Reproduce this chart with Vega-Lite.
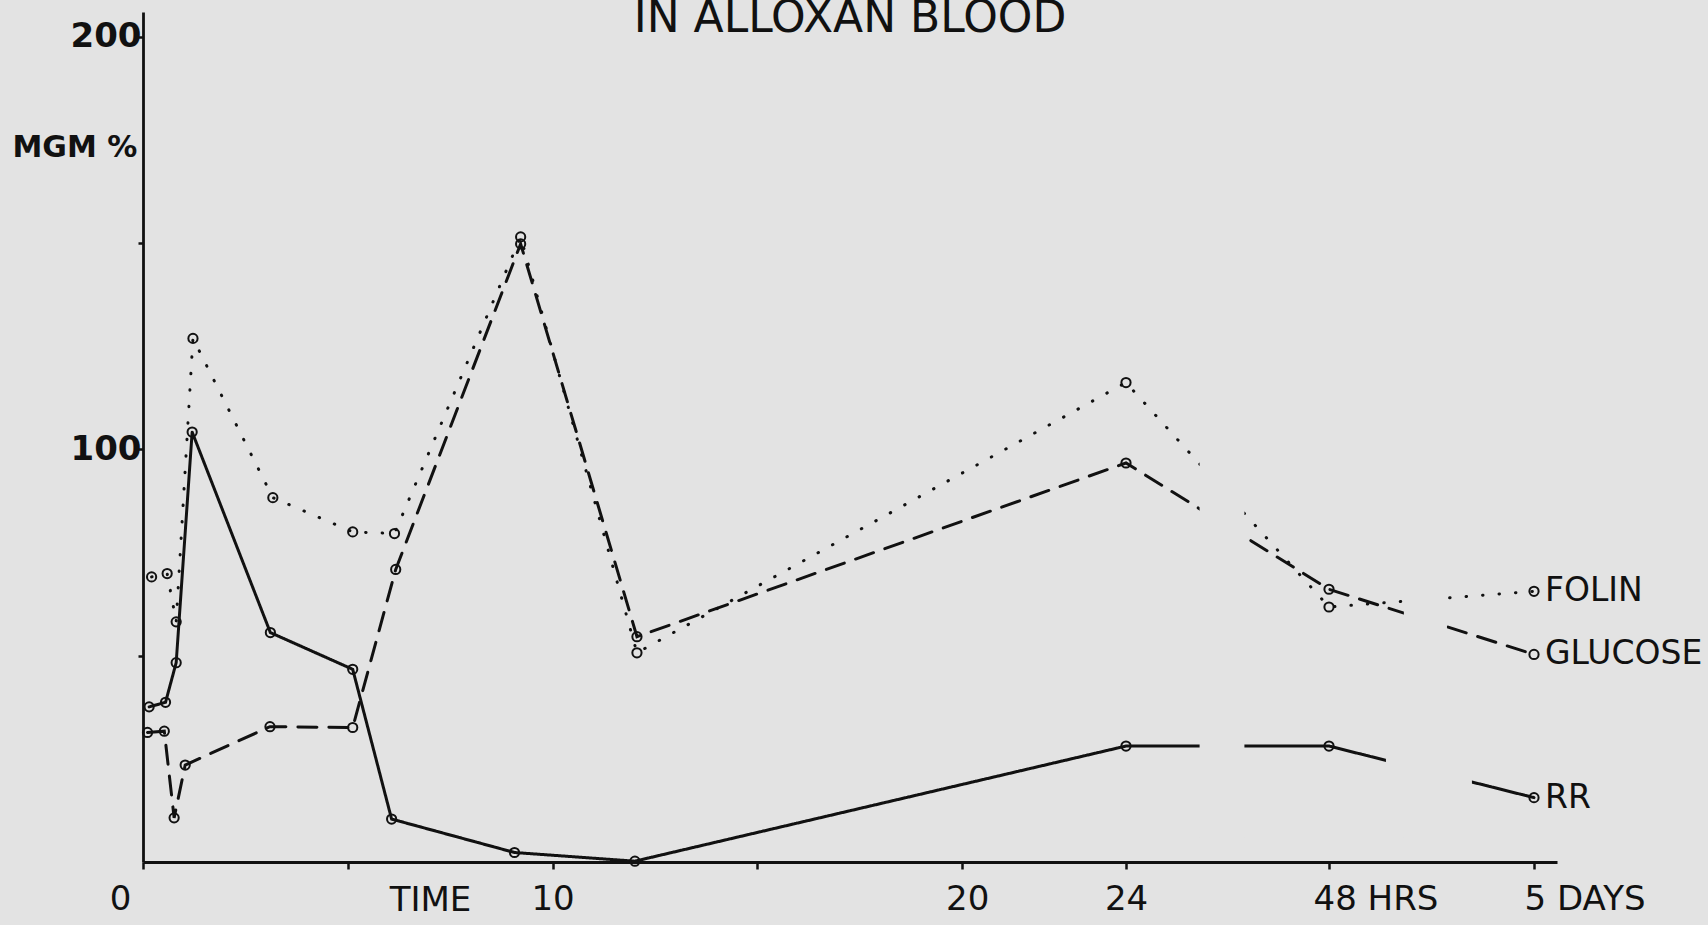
{
  "$schema": "https://vega.github.io/schema/vega-lite/v6.json",
  "width": 1414,
  "height": 850,
  "autosize": "none",
  "padding": {"left": 143, "top": 12, "right": 151, "bottom": 63},
  "background": "#e3e3e3",
  "config": {"view": {"stroke": null}, "font": "DejaVu Sans"},
  "title": {
    "text": "IN ALLOXAN BLOOD",
    "fontSize": 44,
    "font": "DejaVu Sans",
    "fontWeight": "normal",
    "color": "#111111",
    "anchor": "middle",
    "frame": "group",
    "baseline": "alphabetic",
    "offset": -64
  },
  "datasets": {
    "series": [
      {"series": "FOLIN", "t": 0.21, "v": 69.1},
      {"series": "FOLIN", "t": 0.59, "v": 69.9},
      {"series": "FOLIN", "t": 0.81, "v": 58.2},
      {"series": "FOLIN", "t": 1.22, "v": 126.9},
      {"series": "FOLIN", "t": 3.17, "v": 88.3},
      {"series": "FOLIN", "t": 5.12, "v": 80.0},
      {"series": "FOLIN", "t": 6.14, "v": 79.6},
      {"series": "FOLIN", "t": 9.22, "v": 151.5},
      {"series": "FOLIN", "t": 12.06, "v": 50.7},
      {"series": "FOLIN", "t": 24, "v": 116.2},
      {"series": "FOLIN", "t": 48, "v": 61.8},
      {"series": "FOLIN", "t": 120, "v": 65.6},
      {"series": "GLUCOSE", "t": 0.11, "v": 31.4},
      {"series": "GLUCOSE", "t": 0.52, "v": 31.7},
      {"series": "GLUCOSE", "t": 0.76, "v": 10.7},
      {"series": "GLUCOSE", "t": 1.03, "v": 23.5},
      {"series": "GLUCOSE", "t": 3.10, "v": 32.8},
      {"series": "GLUCOSE", "t": 5.12, "v": 32.6},
      {"series": "GLUCOSE", "t": 6.17, "v": 70.9},
      {"series": "GLUCOSE", "t": 9.22, "v": 149.8},
      {"series": "GLUCOSE", "t": 12.06, "v": 54.6},
      {"series": "GLUCOSE", "t": 24, "v": 96.7},
      {"series": "GLUCOSE", "t": 48, "v": 66.1},
      {"series": "GLUCOSE", "t": 120, "v": 50.3},
      {"series": "RR", "t": 0.15, "v": 37.6},
      {"series": "RR", "t": 0.55, "v": 38.7},
      {"series": "RR", "t": 0.81, "v": 48.3},
      {"series": "RR", "t": 1.20, "v": 104.2},
      {"series": "RR", "t": 3.11, "v": 55.6},
      {"series": "RR", "t": 5.12, "v": 46.7},
      {"series": "RR", "t": 6.07, "v": 10.4},
      {"series": "RR", "t": 9.07, "v": 2.3},
      {"series": "RR", "t": 12.01, "v": 0.2},
      {"series": "RR", "t": 24, "v": 28.1},
      {"series": "RR", "t": 48, "v": 28.1},
      {"series": "RR", "t": 120, "v": 15.6}
    ],
    "breaks": [
      {"t0": 32.7, "t1": 38.0, "v0": 6, "v1": 206},
      {"t0": 74.3, "t1": 89.4, "v0": 6, "v1": 206},
      {"t0": 68.0, "t1": 98.2, "v0": 10, "v1": 35}
    ]
  },
  "layer": [
    {
      "data": {"name": "series"},
      "mark": {"type": "line", "strokeWidth": 3, "strokeCap": "round", "color": "#111111"},
      "encoding": {
        "x": {
          "field": "t",
          "type": "quantitative",
          "scale": {"domain": [0, 24, 48, 120, 128], "range": [0, 983, 1186, 1391, 1414], "nice": false, "zero": false},
          "axis": {
            "values": [0, 5, 10, 15, 20, 24, 48, 120],
            "labelExpr": "datum.value == 0 ? '0' : datum.value == 10 ? '10' : datum.value == 20 ? '20' : datum.value == 24 ? '24' : datum.value == 48 ? '48 HRS' : datum.value == 120 ? '5 DAYS' : ''",
            "grid": false,
            "domainColor": "#111111",
            "domainWidth": 3,
            "tickColor": "#111111",
            "tickWidth": 2.5,
            "tickSize": 7,
            "labelFont": "DejaVu Sans",
            "labelFontSize": 34,
            "labelColor": "#111111",
            "labelPadding": 13,
            "labelBaseline": "top",
            "labelOverlap": false,
            "labelFlush": false,
            "labelAlign": {"condition": [{"test": "datum.value == 0", "value": "right"}, {"test": "datum.value >= 48", "value": "left"}], "value": "center"},
            "labelOffset": {"condition": [{"test": "datum.value == 0", "value": -12}, {"test": "datum.value == 48", "value": -16}, {"test": "datum.value == 120", "value": -10}, {"test": "datum.value == 20", "value": 5}], "value": 0},
            "title": "TIME",
            "titleFont": "DejaVu Sans",
            "titleFontSize": 34,
            "titleFontWeight": "normal",
            "titleColor": "#111111",
            "titleX": 287,
            "titleY": 38,
            "titleAlign": "center",
            "titleBaseline": "middle"
          }
        },
        "y": {
          "field": "v",
          "type": "quantitative",
          "scale": {"domain": [0, 206], "nice": false, "zero": true},
          "axis": {
            "values": [50, 100, 150, 200],
            "labelExpr": "datum.value == 100 || datum.value == 200 ? datum.label : ''",
            "grid": false,
            "domainColor": "#111111",
            "domainWidth": 2.8,
            "tickColor": "#111111",
            "tickWidth": 2.5,
            "tickSize": 5,
            "labelFont": "DejaVu Sans",
            "labelFontSize": 34,
            "labelFontWeight": "bold",
            "labelColor": "#111111",
            "labelPadding": -3,
            "labelBaseline": "middle",
            "title": "MGM %",
            "titleFont": "DejaVu Sans",
            "titleFontSize": 30,
            "titleFontWeight": "bold",
            "titleColor": "#111111",
            "titleAngle": 0,
            "titleX": -131,
            "titleY": 135,
            "titleAlign": "left",
            "titleBaseline": "middle"
          }
        },
        "detail": {"field": "series", "type": "nominal"},
        "strokeDash": {
          "field": "series",
          "type": "nominal",
          "scale": {"domain": ["FOLIN", "GLUCOSE", "RR"], "range": [[0.5, 16], [19, 12], [1, 0]]},
          "legend": null
        }
      }
    },
    {
      "data": {"name": "breaks"},
      "mark": {"type": "rect", "color": "#e3e3e3"},
      "encoding": {
        "x": {"field": "t0", "type": "quantitative"},
        "x2": {"field": "t1"},
        "y": {"field": "v0", "type": "quantitative"},
        "y2": {"field": "v1"}
      }
    },
    {
      "data": {"name": "series"},
      "mark": {"type": "point", "shape": "circle", "filled": false, "size": 85, "strokeWidth": 2, "color": "#111111", "opacity": 1},
      "encoding": {
        "x": {"field": "t", "type": "quantitative"},
        "y": {"field": "v", "type": "quantitative"}
      }
    },
    {
      "data": {"name": "series"},
      "transform": [{"filter": "datum.t == 120"}],
      "mark": {"type": "text", "align": "left", "baseline": "middle", "dx": 11, "fontSize": 33, "font": "DejaVu Sans", "color": "#111111"},
      "encoding": {
        "x": {"field": "t", "type": "quantitative"},
        "y": {"field": "v", "type": "quantitative"},
        "text": {"field": "series"}
      }
    }
  ]
}
